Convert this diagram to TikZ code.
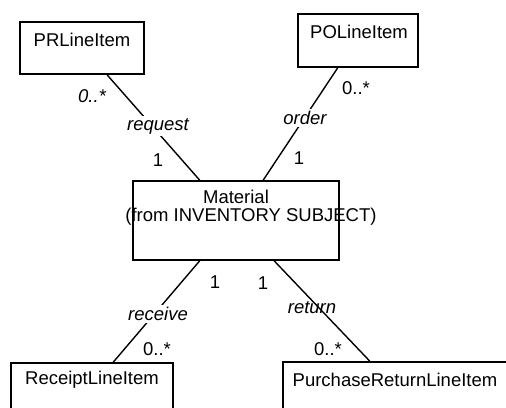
\documentclass[tikz,border=0pt]{standalone}
\usepackage{fontspec}
\setmainfont{Liberation Sans}
\usetikzlibrary{calc}

\tikzset{every picture/.style={line width=1.4pt}}
\tikzset{
  classbox/.style={draw, rectangle, line width=1.8pt, inner sep=0pt},
  txt/.style={inner sep=0.75pt, font=\fontsize{18.5}{21}\selectfont},
  role/.style={txt, font=\fontsize{18.5}{21}\selectfont\itshape},
  rolecut/.style={role, fill=white, inner sep=2pt},
}

\begin{document}
\begin{tikzpicture}[x=1pt,y=1pt,yscale=-1,xscale=1]
    \useasboundingbox (0,0) rectangle (506,407);
    % class boxes
    \node [classbox, minimum width=124, minimum height=52] (pr) at (82,48) {};
    \node [classbox, minimum width=120, minimum height=53] (po) at (358,40.5) {};
    \node [classbox, minimum width=206, minimum height=79] (mat) at (236,220.5) {};
    \node [classbox, minimum width=162, minimum height=57] (rcpt) at (92,391.5) {};
    \node [classbox, minimum width=237, minimum height=58] (pret) at (401.5,391) {};

    % class names
    \node [txt] (prname) at (82,40) {PRLineItem};
    \node [txt] (poname) at (359,32) {POLineItem};
    \node [txt] (matname) at (236,197) {Material};
    \node [txt] (matfrom) at (251,217) {(from INVENTORY SUBJECT)};
    \node [txt] (rcptname) at (92,380) {ReceiptLineItem};
    \node [txt] (pretname) at (395,380) {PurchaseReturnLineItem};

    % associations
    \draw ($(pr.south west)!.70!(pr.south east)$) -- ($(mat.north west)!.325!(mat.north east)$);
    \draw ($(po.south west)!.333!(po.south east)$) -- ($(mat.north west)!.631!(mat.north east)$);
    \draw ($(mat.south west)!.325!(mat.south east)$) -- ($(rcpt.north west)!.63!(rcpt.north east)$);
    \draw ($(mat.south west)!.684!(mat.south east)$) -- ($(pret.north west)!.367!(pret.north east)$);

    % role names
    \node [rolecut] (request) at (158,126) {request};
    \node [rolecut] (order) at (305,118) {order};
    \node [rolecut] (receive) at (158,314) {receive};
    \node [role] (return) at (312,308) {return};

    % multiplicities
    \node [role] (m1) at (92,96) {0..*};
    \node [txt] (m2) at (158,160) {1};
    \node [txt] (m3) at (356,88) {0..*};
    \node [txt] (m4) at (299,158) {1};
    \node [txt] (m5) at (215,282) {1};
    \node [txt] (m6) at (263,283) {1};
    \node [txt] (m7) at (157,349) {0..*};
    \node [txt] (m8) at (328,349) {0..*};
\end{tikzpicture}
\end{document}
